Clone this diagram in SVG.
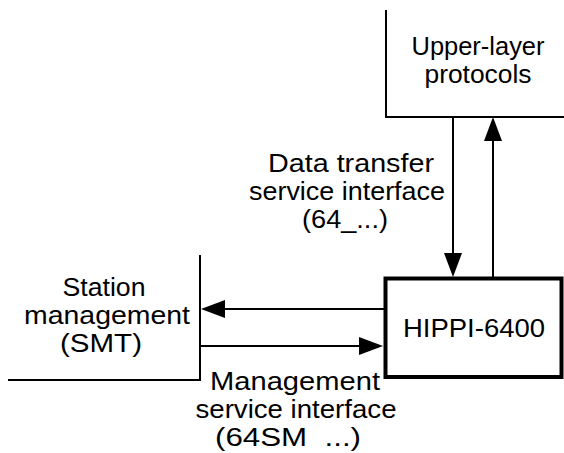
<svg xmlns="http://www.w3.org/2000/svg" width="564" height="453" viewBox="0 0 564 453">
  <style>
    .edge { fill: none; stroke: #000; stroke-width: 2; }
    .conn { fill: none; stroke: #000; stroke-width: 2; }
    .box { fill: #fff; stroke: #000; stroke-width: 4; }
    .lbl { font-family: "Liberation Sans", Arial, Helvetica, sans-serif; font-size: 26px; fill: #000; text-anchor: middle; }
  </style>
  <defs>
    <marker id="arrow" markerUnits="userSpaceOnUse" markerWidth="24" markerHeight="18" refX="21" refY="9" orient="auto">
      <path d="M0,0 L24,9 L0,18 Z" fill="#000"/>
    </marker>
  </defs>
  <rect width="564" height="453" fill="#fff"/>

  <!-- Upper-layer protocols: open-cornered block at top right -->
  <g id="upper-layer">
    <path class="edge" d="M386,10 V117 H564"/>
    <text class="lbl" x="478" y="55" textLength="133" lengthAdjust="spacingAndGlyphs">Upper-layer</text>
    <text class="lbl" x="478" y="83" textLength="107" lengthAdjust="spacingAndGlyphs">protocols</text>
  </g>

  <!-- Station management: open-cornered block at left -->
  <g id="smt">
    <path class="edge" d="M200,255 V380 H8"/>
    <text class="lbl" x="104" y="296" textLength="83" lengthAdjust="spacingAndGlyphs">Station</text>
    <text class="lbl" x="107" y="324" textLength="166" lengthAdjust="spacingAndGlyphs">management</text>
    <text class="lbl" x="101" y="352" textLength="82" lengthAdjust="spacingAndGlyphs">(SMT)</text>
  </g>

  <!-- HIPPI-6400 core block -->
  <g id="hippi">
    <rect class="box" x="385.5" y="278.5" width="176" height="98.5"/>
    <text class="lbl" x="474" y="337" textLength="142" lengthAdjust="spacingAndGlyphs">HIPPI-6400</text>
  </g>

  <!-- Interface connectors -->
  <g id="connectors">
    <line class="conn" x1="453" y1="117" x2="453" y2="274" marker-end="url(#arrow)"/>
    <line class="conn" x1="493" y1="277" x2="493" y2="120" marker-end="url(#arrow)"/>
    <line class="conn" x1="384" y1="309" x2="204" y2="309" marker-end="url(#arrow)"/>
    <line class="conn" x1="201" y1="346" x2="380" y2="346" marker-end="url(#arrow)"/>
  </g>

  <!-- Interface labels -->
  <g id="data-interface-label">
    <text class="lbl" x="351" y="172" textLength="166" lengthAdjust="spacingAndGlyphs">Data transfer</text>
    <text class="lbl" x="347" y="200" textLength="196" lengthAdjust="spacingAndGlyphs">service interface</text>
    <text class="lbl" x="345" y="228" textLength="86" lengthAdjust="spacingAndGlyphs">(64_...)</text>
  </g>
  <g id="mgmt-interface-label">
    <text class="lbl" x="295" y="390" textLength="170" lengthAdjust="spacingAndGlyphs">Management</text>
    <text class="lbl" x="296" y="418" textLength="201" lengthAdjust="spacingAndGlyphs">service interface</text>
    <text class="lbl" x="288" y="446" textLength="146" lengthAdjust="spacingAndGlyphs">(64SM&#160;&#160;...)</text>
  </g>
</svg>
